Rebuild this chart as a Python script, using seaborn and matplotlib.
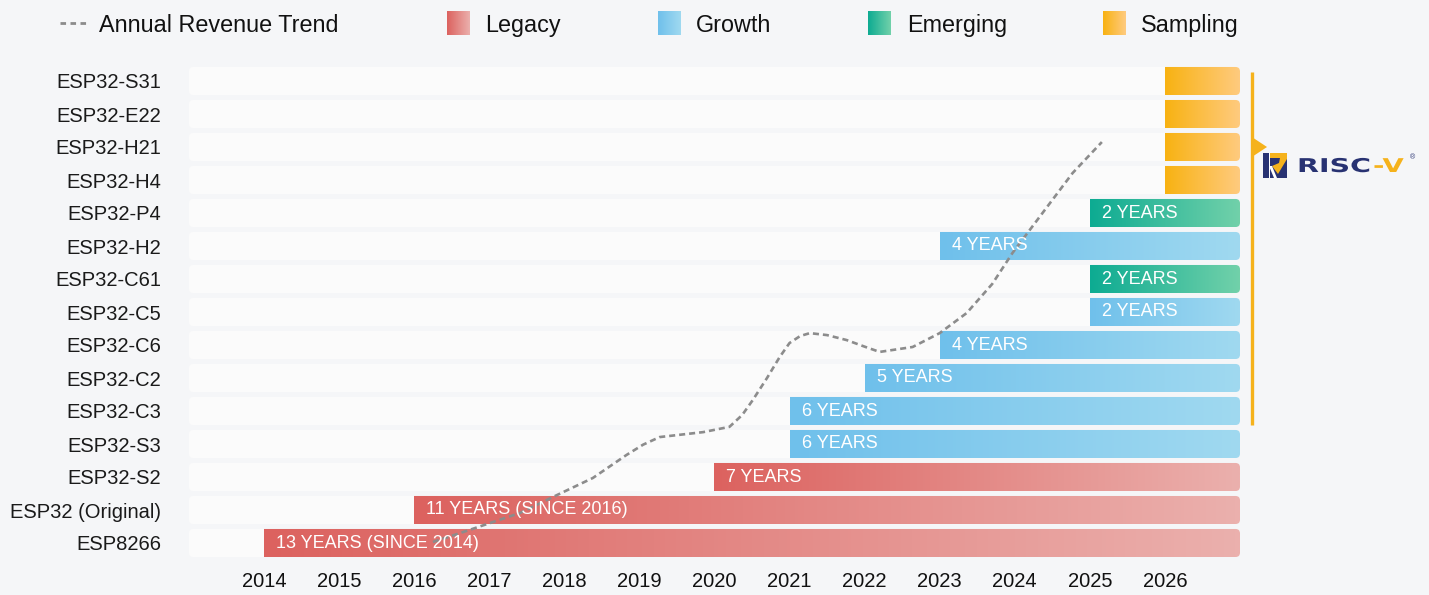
import numpy as np
import pandas as pd
import seaborn as sns
import matplotlib.pyplot as plt
from matplotlib.patches import FancyBboxPatch, Polygon, PathPatch
from matplotlib.colors import LinearSegmentedColormap
from matplotlib.textpath import TextPath
from matplotlib.font_manager import FontProperties
from matplotlib.transforms import Affine2D, IdentityTransform
from matplotlib.lines import Line2D

# chips, top row first
chips = ['ESP32-S31', 'ESP32-E22', 'ESP32-H21', 'ESP32-H4', 'ESP32-P4', 'ESP32-H2',
         'ESP32-C61', 'ESP32-C5', 'ESP32-C6', 'ESP32-C2', 'ESP32-C3', 'ESP32-S3',
         'ESP32-S2', 'ESP32 (Original)', 'ESP8266']
launch_year = [2026, 2026, 2026, 2026, 2025, 2023, 2025, 2025, 2023, 2022, 2021, 2021,
               2020, 2016, 2014]
stage = ['Sampling', 'Sampling', 'Sampling', 'Sampling', 'Emerging', 'Growth', 'Emerging',
         'Growth', 'Growth', 'Growth', 'Growth', 'Growth', 'Legacy', 'Legacy', 'Legacy']
bar_labels = ['', '', '', '', '2 YEARS', '4 YEARS', '2 YEARS', '2 YEARS', '4 YEARS',
              '5 YEARS', '6 YEARS', '6 YEARS', '7 YEARS', '11 YEARS (SINCE 2016)',
              '13 YEARS (SINCE 2014)']
timeline_start = 2013
timeline_end = 2027
years = list(range(2014, 2027))

# revenue trend (x = year, level = rows above ESP8266)
trend_year = [2016.25, 2016.65, 2017.41, 2017.90, 2018.38, 2018.83, 2019.05, 2019.27,
              2019.85, 2020.20, 2020.37, 2020.51, 2020.70, 2020.87, 2021.00, 2021.14,
              2021.27, 2021.50, 2021.76, 2022.00, 2022.20, 2022.64, 2023.00, 2023.36,
              2023.70, 2023.97, 2024.33, 2024.77, 2025.16]
trend_level = [0.03, 0.33, 0.91, 1.45, 1.97, 2.67, 2.98, 3.21, 3.36, 3.52, 3.88, 4.33,
               5.00, 5.64, 6.06, 6.27, 6.36, 6.30, 6.15, 5.95, 5.79, 5.94, 6.36, 6.97,
               7.85, 8.79, 9.88, 11.21, 12.15]

legend_stages = ['Legacy', 'Growth', 'Emerging', 'Sampling']
stage_colors = {
    'Legacy': ('#dc625f', '#ebb0ad'),
    'Growth': ('#6fc0eb', '#a0d9f0'),
    'Emerging': ('#0dab92', '#72d1aa'),
    'Sampling': ('#f8b212', '#ffcb80'),
}

BG = '#f5f6f8'
W, H = 1429, 595

sns.set_theme(style='white')
plt.rcParams['font.family'] = ['Liberation Sans', 'DejaVu Sans']

fig = plt.figure(figsize=(W / 100, H / 100), dpi=100, facecolor=BG)
ax = fig.add_axes([185.9 / W, 35.5 / H, 1054.1 / W, 495 / H])
ax.set_facecolor(BG)

n = len(chips)
df = pd.DataFrame({'chip': chips, 'launch': launch_year, 'stage': stage,
                   'span': [timeline_end - y for y in launch_year]})

# row backgrounds
sns.barplot(x=np.full(n, float(timeline_end - timeline_start)), y=chips, left=timeline_start,
            color='#fbfbfb', saturation=1, width=0.85, orient='h', errorbar=None, ax=ax)
# lifecycle bars
sns.barplot(data=df, x='span', y='chip', left=df['launch'].values, color='white',
            saturation=1, width=0.85, orient='h', errorbar=None, ax=ax)

asp = 2.27
grad = np.linspace(0, 1, 256).reshape(1, -1)
for i, p in enumerate(ax.patches[:n]):
    p.set_visible(False)
    rb = FancyBboxPatch((p.get_x(), p.get_y()), p.get_width(), p.get_height(),
                        boxstyle='round,pad=0,rounding_size=0.06', mutation_aspect=asp,
                        facecolor='#fbfbfb', edgecolor='none', zorder=1)
    ax.add_patch(rb)

for i, p in enumerate(ax.patches[n:2 * n]):
    p.set_visible(False)
    x0, y0, w, h = p.get_x(), p.get_y(), p.get_width(), p.get_height()
    c0, c1 = stage_colors[stage[i]]
    cmap = LinearSegmentedColormap.from_list(stage[i], [c0, c1])
    clip = FancyBboxPatch((x0 - 0.3, y0), w + 0.3, h,
                          boxstyle='round,pad=0,rounding_size=0.06', mutation_aspect=asp,
                          facecolor='none', edgecolor='none')
    ax.add_patch(clip)
    img = ax.imshow(grad, extent=(x0, x0 + w, y0 + h, y0), aspect='auto', cmap=cmap,
                    zorder=2, interpolation='bilinear')
    img.set_clip_path(clip)
    if bar_labels[i]:
        ax.text(x0 + 0.16, y0 + h / 2, bar_labels[i], color='white', fontsize=13,
                va='center', ha='left', zorder=4)

# trend line
sns.lineplot(x=trend_year, y=[n - 1 - v for v in trend_level], sort=False, estimator=None,
             color='#8c8c8c', linewidth=1.9, linestyle=(0, (2.3, 1.5)), ax=ax, zorder=3)

ax.set_xlim(2012.96, timeline_end)
ax.set_ylim(n - 0.5, -0.5)
ax.set_xticks(years)
ax.set_xticklabels([str(y) for y in years])
ax.set_xlabel('')
ax.set_ylabel('')
for s in ax.spines.values():
    s.set_visible(False)
ax.tick_params(axis='x', length=0, pad=9, labelsize=14.5, labelcolor='#111111')
ax.tick_params(axis='y', length=0, pad=18, labelsize=14.5, labelcolor='#1a1a1a')
ax.grid(False)

# RISC-V bracket
orange = '#f5b21c'
ax.plot([2027.16, 2027.16], [-0.27, 10.42], color=orange, lw=2.4, clip_on=False,
        solid_capstyle='butt', zorder=5)
ax.add_patch(Polygon([(2027.16, 1.7), (2027.36, 2.0), (2027.16, 2.3)], closed=True,
                     facecolor=orange, edgecolor='none', clip_on=False, zorder=5))

navy = '#283272'


def px(x, y):
    return (x, H - y)


# logo mark
fig.add_artist(Polygon([px(1263, 153), px(1287, 153), px(1287, 178), px(1263, 178)],
                       closed=True, facecolor=navy, edgecolor='none',
                       transform=IdentityTransform()))
fig.add_artist(Polygon([px(1270, 153), px(1287, 153), px(1287, 159), px(1278, 174),
                        px(1272, 166), px(1279, 163), px(1280, 158), px(1270, 158)],
                       closed=True, facecolor=orange, edgecolor='none',
                       transform=IdentityTransform()))
fig.add_artist(Polygon([px(1269, 166), px(1272, 166), px(1277, 178), px(1274, 178)],
                       closed=True, facecolor='white', edgecolor='none',
                       transform=IdentityTransform()))
fig.add_artist(Polygon([px(1269, 153), px(1270, 153), px(1270, 178), px(1269, 178)],
                       closed=True, facecolor='white', edgecolor='none',
                       transform=IdentityTransform()))

fp = FontProperties(family='DejaVu Sans', weight='bold')
tp = TextPath((0, 0), 'RISC', size=19, prop=fp)
fig.add_artist(PathPatch(tp, transform=Affine2D().scale(1.5, 1).translate(1297, H - 172),
                         facecolor=navy, edgecolor='none'))
tp2 = TextPath((0, 0), '-V', size=19, prop=fp)
fig.add_artist(PathPatch(tp2, transform=Affine2D().scale(1.45, 1).translate(1373, H - 172),
                         facecolor=orange, edgecolor='none'))
fig.text(1413 / W, 1 - 158 / H, '®', fontsize=5, color=navy, ha='center', va='center')

# legend
fig.add_artist(Line2D([60 / W, 86 / W], [1 - 23 / H, 1 - 23 / H], color='#8c8c8c',
                      lw=2.0, linestyle=(0, (2.0, 1.6))))
fig.text(99 / W, 1 - 32 / H, 'Annual Revenue Trend', fontsize=16.8, color='#111111',
         va='baseline', ha='left')
sw_x = [447, 658, 868, 1103]
tx_x = [485, 696, 907, 1141]
for st, sx, tx in zip(legend_stages, sw_x, tx_x):
    sax = fig.add_axes([sx / W, 1 - 35 / H, 23 / W, 24 / H])
    c0, c1 = stage_colors[st]
    sax.imshow(grad, aspect='auto', cmap=LinearSegmentedColormap.from_list(st, [c0, c1]),
               interpolation='bilinear')
    sax.axis('off')
    fig.text(tx / W, 1 - 32 / H, st, fontsize=16.8, color='#111111', va='baseline',
             ha='left')

fig.savefig('out.png', dpi=100, facecolor=BG)
